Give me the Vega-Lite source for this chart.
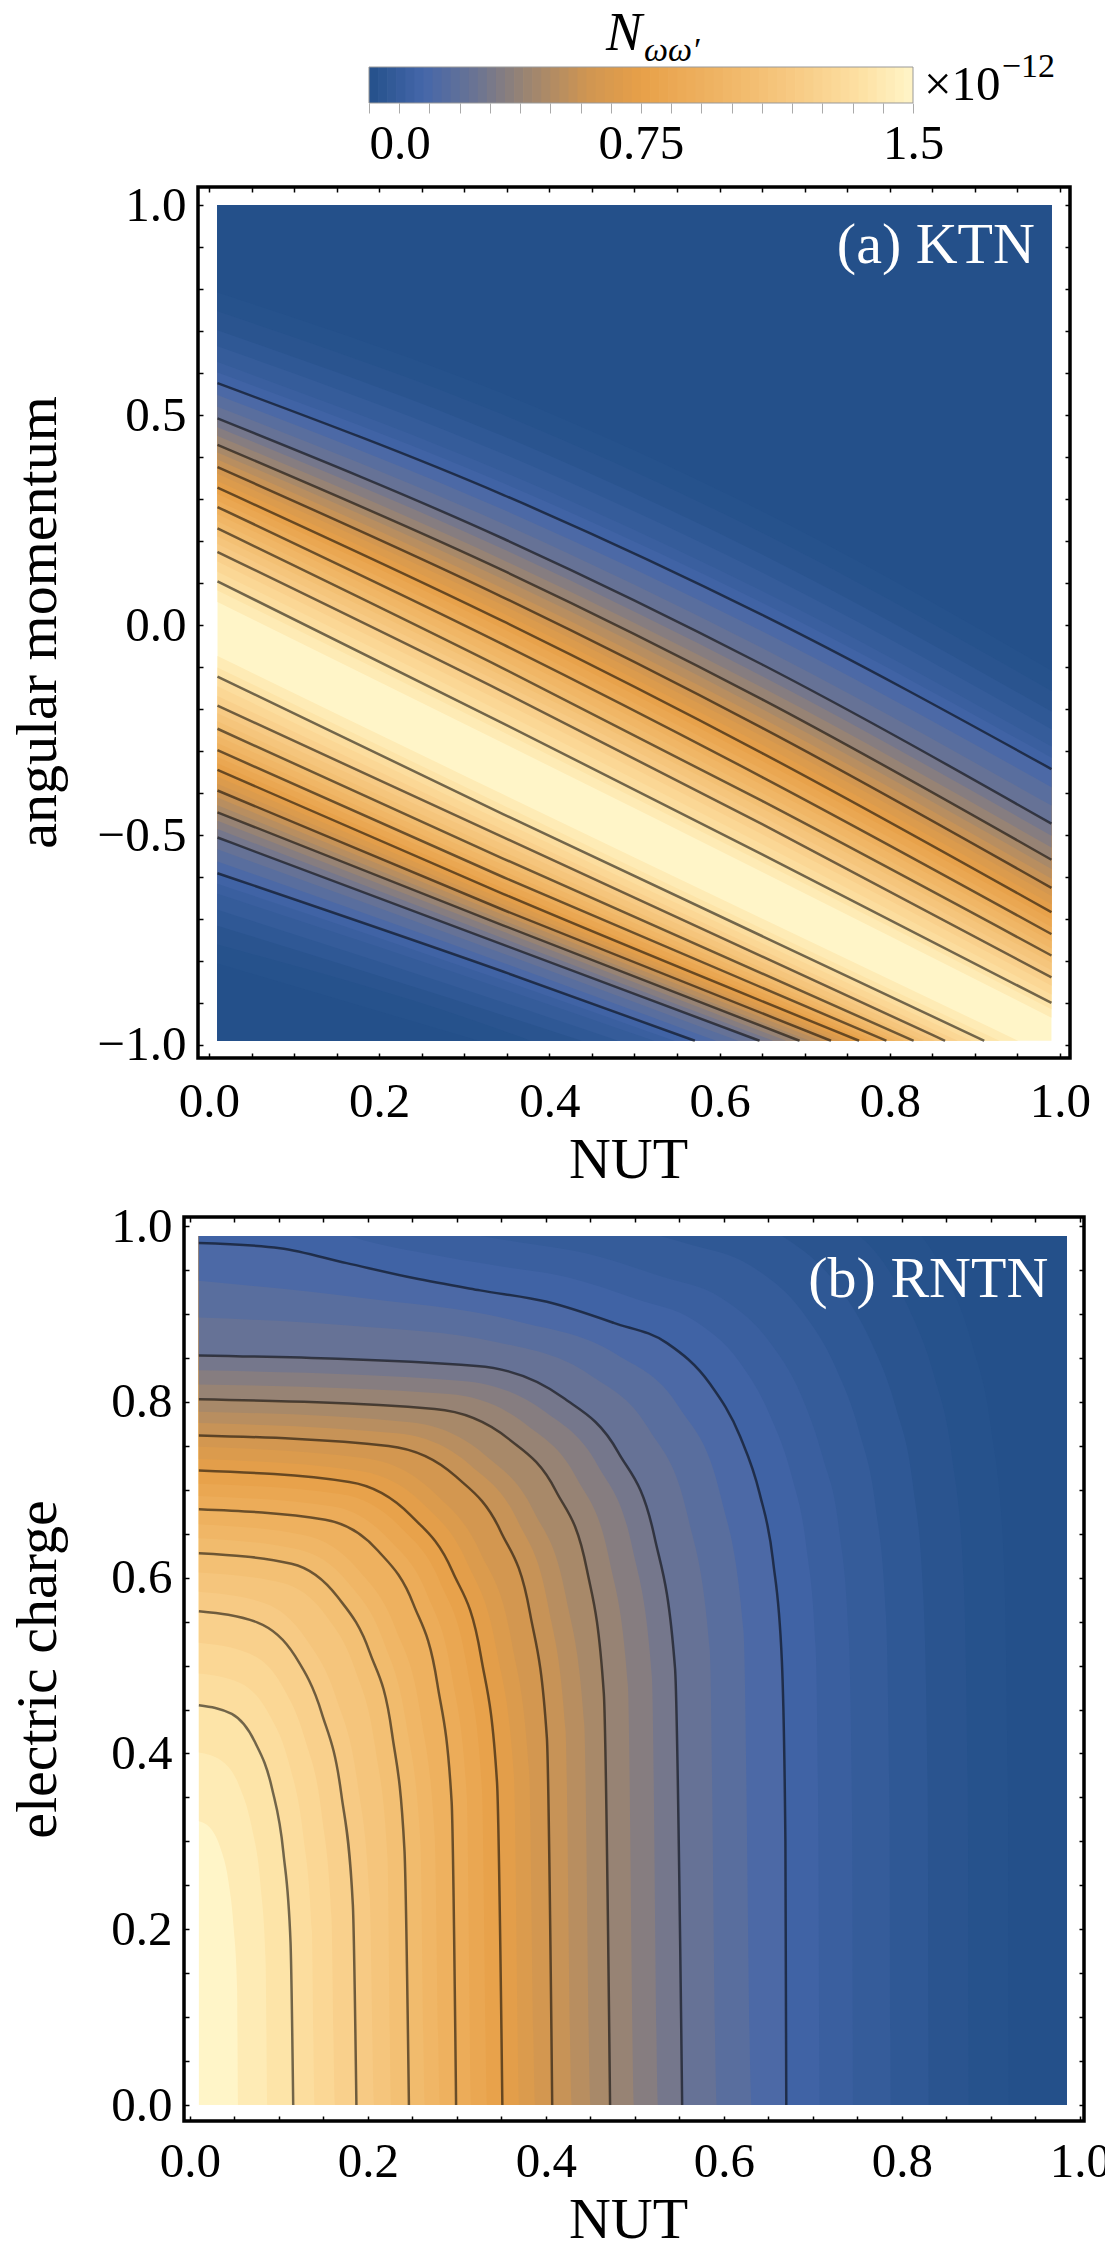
{
"$schema":"https://vega.github.io/schema/vega-lite/v6.json",
"autosize":{"type":"none"},
"padding":{"left":184,"top":67,"right":921,"bottom":2182},
"background":"#ffffff",
"config":{
"view":{"stroke":"#000000","strokeWidth":3.5},
"font":"Liberation Serif",
"text":{"font":"Liberation Serif"},
"axis":{"labelFont":"Liberation Serif","labelFontSize":49,"labelColor":"#000000","tickColor":"#000000","tickWidth":1.5,"domain":false,"grid":false,"titleFont":"Liberation Serif","titleFontSize":58,"titleFontWeight":"normal","titleColor":"#000000","labelOverlap":false,"labelFlush":false,"labelBound":false}
},
"datasets":{
"cb":[
{"a":0,"b":0.027,"v":0.0125},{"a":0.025,"b":0.052,"v":0.0375},{"a":0.05,"b":0.077,"v":0.0625},{"a":0.075,"b":0.102,"v":0.0875},{"a":0.1,"b":0.127,"v":0.1125},{"a":0.125,"b":0.152,"v":0.1375},{"a":0.15,"b":0.177,"v":0.1625},{"a":0.175,"b":0.202,"v":0.1875},{"a":0.2,"b":0.227,"v":0.2125},{"a":0.225,"b":0.252,"v":0.2375},
{"a":0.25,"b":0.277,"v":0.2625},{"a":0.275,"b":0.302,"v":0.2875},{"a":0.3,"b":0.327,"v":0.3125},{"a":0.325,"b":0.352,"v":0.3375},{"a":0.35,"b":0.377,"v":0.3625},{"a":0.375,"b":0.402,"v":0.3875},{"a":0.4,"b":0.427,"v":0.4125},{"a":0.425,"b":0.452,"v":0.4375},{"a":0.45,"b":0.477,"v":0.4625},{"a":0.475,"b":0.502,"v":0.4875},
{"a":0.5,"b":0.527,"v":0.5125},{"a":0.525,"b":0.552,"v":0.5375},{"a":0.55,"b":0.577,"v":0.5625},{"a":0.575,"b":0.602,"v":0.5875},{"a":0.6,"b":0.627,"v":0.6125},{"a":0.625,"b":0.652,"v":0.6375},{"a":0.65,"b":0.677,"v":0.6625},{"a":0.675,"b":0.702,"v":0.6875},{"a":0.7,"b":0.727,"v":0.7125},{"a":0.725,"b":0.752,"v":0.7375},
{"a":0.75,"b":0.777,"v":0.7625},{"a":0.775,"b":0.802,"v":0.7875},{"a":0.8,"b":0.827,"v":0.8125},{"a":0.825,"b":0.852,"v":0.8375},{"a":0.85,"b":0.877,"v":0.8625},{"a":0.875,"b":0.902,"v":0.8875},{"a":0.9,"b":0.927,"v":0.9125},{"a":0.925,"b":0.952,"v":0.9375},{"a":0.95,"b":0.977,"v":0.9625},{"a":0.975,"b":1.002,"v":0.9875},
{"a":1.0,"b":1.027,"v":1.0125},{"a":1.025,"b":1.052,"v":1.0375},{"a":1.05,"b":1.077,"v":1.0625},{"a":1.075,"b":1.102,"v":1.0875},{"a":1.1,"b":1.127,"v":1.1125},{"a":1.125,"b":1.152,"v":1.1375},{"a":1.15,"b":1.177,"v":1.1625},{"a":1.175,"b":1.202,"v":1.1875},{"a":1.2,"b":1.227,"v":1.2125},{"a":1.225,"b":1.252,"v":1.2375},
{"a":1.25,"b":1.277,"v":1.2625},{"a":1.275,"b":1.302,"v":1.2875},{"a":1.3,"b":1.327,"v":1.3125},{"a":1.325,"b":1.352,"v":1.3375},{"a":1.35,"b":1.377,"v":1.3625},{"a":1.375,"b":1.402,"v":1.3875},{"a":1.4,"b":1.427,"v":1.4125},{"a":1.425,"b":1.452,"v":1.4375},{"a":1.45,"b":1.477,"v":1.4625},{"a":1.475,"b":1.5,"v":1.4875}
],
"ka":[
{"i":1,"s":"u","L":1.45,"x":0.01,"y":0.055},{"i":1,"s":"u","L":1.45,"x":0.3455,"y":-0.281},{"i":1,"s":"u","L":1.45,"x":0.65,"y":-0.588},{"i":1,"s":"u","L":1.45,"x":0.99,"y":-0.935},
{"i":2,"s":"u","L":1.4,"x":0.01,"y":0.082},{"i":2,"s":"u","L":1.4,"x":0.3455,"y":-0.255},{"i":2,"s":"u","L":1.4,"x":0.65,"y":-0.565},{"i":2,"s":"u","L":1.4,"x":0.99,"y":-0.915},
{"i":3,"s":"u","L":1.35,"x":0.01,"y":0.104},{"i":3,"s":"u","L":1.35,"x":0.3455,"y":-0.234},{"i":3,"s":"u","L":1.35,"x":0.65,"y":-0.546},{"i":3,"s":"u","L":1.35,"x":0.99,"y":-0.9},
{"i":4,"s":"u","L":1.3,"x":0.01,"y":0.127},{"i":4,"s":"u","L":1.3,"x":0.3455,"y":-0.209},{"i":4,"s":"u","L":1.3,"x":0.65,"y":-0.522},{"i":4,"s":"u","L":1.3,"x":0.99,"y":-0.88},
{"i":5,"s":"u","L":1.25,"x":0.01,"y":0.151},{"i":5,"s":"u","L":1.25,"x":0.3455,"y":-0.184},{"i":5,"s":"u","L":1.25,"x":0.65,"y":-0.498},{"i":5,"s":"u","L":1.25,"x":0.99,"y":-0.859},
{"i":6,"s":"u","L":1.2,"x":0.01,"y":0.174},{"i":6,"s":"u","L":1.2,"x":0.3455,"y":-0.159},{"i":6,"s":"u","L":1.2,"x":0.65,"y":-0.474},{"i":6,"s":"u","L":1.2,"x":0.99,"y":-0.839},
{"i":7,"s":"u","L":1.15,"x":0.01,"y":0.193},{"i":7,"s":"u","L":1.15,"x":0.3455,"y":-0.14},{"i":7,"s":"u","L":1.15,"x":0.65,"y":-0.456},{"i":7,"s":"u","L":1.15,"x":0.99,"y":-0.822},
{"i":8,"s":"u","L":1.1,"x":0.01,"y":0.211},{"i":8,"s":"u","L":1.1,"x":0.3455,"y":-0.122},{"i":8,"s":"u","L":1.1,"x":0.65,"y":-0.437},{"i":8,"s":"u","L":1.1,"x":0.99,"y":-0.804},
{"i":9,"s":"u","L":1.05,"x":0.01,"y":0.23},{"i":9,"s":"u","L":1.05,"x":0.3455,"y":-0.103},{"i":9,"s":"u","L":1.05,"x":0.65,"y":-0.419},{"i":9,"s":"u","L":1.05,"x":0.99,"y":-0.787},
{"i":10,"s":"u","L":1,"x":0.01,"y":0.247},{"i":10,"s":"u","L":1,"x":0.3455,"y":-0.084},{"i":10,"s":"u","L":1,"x":0.65,"y":-0.4},{"i":10,"s":"u","L":1,"x":0.99,"y":-0.77},
{"i":11,"s":"u","L":0.95,"x":0.01,"y":0.264},{"i":11,"s":"u","L":0.95,"x":0.3455,"y":-0.065},{"i":11,"s":"u","L":0.95,"x":0.65,"y":-0.381},{"i":11,"s":"u","L":0.95,"x":0.99,"y":-0.753},
{"i":12,"s":"u","L":0.9,"x":0.01,"y":0.281},{"i":12,"s":"u","L":0.9,"x":0.3455,"y":-0.046},{"i":12,"s":"u","L":0.9,"x":0.65,"y":-0.362},{"i":12,"s":"u","L":0.9,"x":0.99,"y":-0.736},
{"i":13,"s":"u","L":0.85,"x":0.01,"y":0.296},{"i":13,"s":"u","L":0.85,"x":0.3455,"y":-0.028},{"i":13,"s":"u","L":0.85,"x":0.65,"y":-0.343},{"i":13,"s":"u","L":0.85,"x":0.99,"y":-0.719},
{"i":14,"s":"u","L":0.8,"x":0.01,"y":0.312},{"i":14,"s":"u","L":0.8,"x":0.3455,"y":-0.009},{"i":14,"s":"u","L":0.8,"x":0.65,"y":-0.324},{"i":14,"s":"u","L":0.8,"x":0.99,"y":-0.701},
{"i":15,"s":"u","L":0.75,"x":0.01,"y":0.327},{"i":15,"s":"u","L":0.75,"x":0.3455,"y":0.009},{"i":15,"s":"u","L":0.75,"x":0.65,"y":-0.305},{"i":15,"s":"u","L":0.75,"x":0.99,"y":-0.684},
{"i":16,"s":"u","L":0.7,"x":0.01,"y":0.343},{"i":16,"s":"u","L":0.7,"x":0.3455,"y":0.028},{"i":16,"s":"u","L":0.7,"x":0.65,"y":-0.285},{"i":16,"s":"u","L":0.7,"x":0.99,"y":-0.665},
{"i":17,"s":"u","L":0.65,"x":0.01,"y":0.36},{"i":17,"s":"u","L":0.65,"x":0.3455,"y":0.047},{"i":17,"s":"u","L":0.65,"x":0.65,"y":-0.265},{"i":17,"s":"u","L":0.65,"x":0.99,"y":-0.645},
{"i":18,"s":"u","L":0.6,"x":0.01,"y":0.376},{"i":18,"s":"u","L":0.6,"x":0.3455,"y":0.066},{"i":18,"s":"u","L":0.6,"x":0.65,"y":-0.245},{"i":18,"s":"u","L":0.6,"x":0.99,"y":-0.626},
{"i":19,"s":"u","L":0.55,"x":0.01,"y":0.394},{"i":19,"s":"u","L":0.55,"x":0.3455,"y":0.087},{"i":19,"s":"u","L":0.55,"x":0.65,"y":-0.222},{"i":19,"s":"u","L":0.55,"x":0.99,"y":-0.604},
{"i":20,"s":"u","L":0.5,"x":0.01,"y":0.411},{"i":20,"s":"u","L":0.5,"x":0.3455,"y":0.109},{"i":20,"s":"u","L":0.5,"x":0.65,"y":-0.2},{"i":20,"s":"u","L":0.5,"x":0.99,"y":-0.581},
{"i":21,"s":"u","L":0.45,"x":0.01,"y":0.429},{"i":21,"s":"u","L":0.45,"x":0.3455,"y":0.13},{"i":21,"s":"u","L":0.45,"x":0.65,"y":-0.177},{"i":21,"s":"u","L":0.45,"x":0.99,"y":-0.559},
{"i":22,"s":"u","L":0.4,"x":0.01,"y":0.45},{"i":22,"s":"u","L":0.4,"x":0.3455,"y":0.155},{"i":22,"s":"u","L":0.4,"x":0.65,"y":-0.149},{"i":22,"s":"u","L":0.4,"x":0.99,"y":-0.53},
{"i":23,"s":"u","L":0.35,"x":0.01,"y":0.471},{"i":23,"s":"u","L":0.35,"x":0.3455,"y":0.181},{"i":23,"s":"u","L":0.35,"x":0.65,"y":-0.122},{"i":23,"s":"u","L":0.35,"x":0.99,"y":-0.502},
{"i":24,"s":"u","L":0.3,"x":0.01,"y":0.492},{"i":24,"s":"u","L":0.3,"x":0.3455,"y":0.206},{"i":24,"s":"u","L":0.3,"x":0.65,"y":-0.094},{"i":24,"s":"u","L":0.3,"x":0.99,"y":-0.473},
{"i":25,"s":"u","L":0.25,"x":0.01,"y":0.52},{"i":25,"s":"u","L":0.25,"x":0.3455,"y":0.241},{"i":25,"s":"u","L":0.25,"x":0.65,"y":-0.055},{"i":25,"s":"u","L":0.25,"x":0.99,"y":-0.43},
{"i":26,"s":"u","L":0.2,"x":0.01,"y":0.548},{"i":26,"s":"u","L":0.2,"x":0.3455,"y":0.275},{"i":26,"s":"u","L":0.2,"x":0.65,"y":-0.015},{"i":26,"s":"u","L":0.2,"x":0.99,"y":-0.386},
{"i":27,"s":"u","L":0.15,"x":0.01,"y":0.576},{"i":27,"s":"u","L":0.15,"x":0.3455,"y":0.31},{"i":27,"s":"u","L":0.15,"x":0.65,"y":0.024},{"i":27,"s":"u","L":0.15,"x":0.99,"y":-0.343},
{"i":28,"s":"u","L":0.125,"x":0.01,"y":0.601},{"i":28,"s":"u","L":0.125,"x":0.3455,"y":0.338},{"i":28,"s":"u","L":0.125,"x":0.65,"y":0.053},{"i":28,"s":"u","L":0.125,"x":0.99,"y":-0.316},
{"i":29,"s":"u","L":0.1,"x":0.01,"y":0.626},{"i":29,"s":"u","L":0.1,"x":0.3455,"y":0.365},{"i":29,"s":"u","L":0.1,"x":0.65,"y":0.081},{"i":29,"s":"u","L":0.1,"x":0.99,"y":-0.289},
{"i":30,"s":"u","L":0.075,"x":0.01,"y":0.664},{"i":30,"s":"u","L":0.075,"x":0.3455,"y":0.408},{"i":30,"s":"u","L":0.075,"x":0.65,"y":0.125},{"i":30,"s":"u","L":0.075,"x":0.99,"y":-0.248},
{"i":31,"s":"u","L":0.05,"x":0.01,"y":0.702},{"i":31,"s":"u","L":0.05,"x":0.3455,"y":0.45},{"i":31,"s":"u","L":0.05,"x":0.65,"y":0.168},{"i":31,"s":"u","L":0.05,"x":0.99,"y":-0.206},
{"i":32,"s":"u","L":0.035,"x":0.01,"y":0.747},{"i":32,"s":"u","L":0.035,"x":0.3455,"y":0.501},{"i":32,"s":"u","L":0.035,"x":0.65,"y":0.22},{"i":32,"s":"u","L":0.035,"x":0.99,"y":-0.157},
{"i":33,"s":"u","L":0.02,"x":0.01,"y":0.792},{"i":33,"s":"u","L":0.02,"x":0.3455,"y":0.551},{"i":33,"s":"u","L":0.02,"x":0.65,"y":0.271},{"i":33,"s":"u","L":0.02,"x":0.99,"y":-0.108},
{"i":34,"s":"l","L":1.45,"x":0.01,"y":-0.074},{"i":34,"s":"l","L":1.45,"x":0.3455,"y":-0.403},{"i":34,"s":"l","L":1.45,"x":0.951,"y":-0.99},
{"i":35,"s":"l","L":1.4,"x":0.01,"y":-0.101},{"i":35,"s":"l","L":1.4,"x":0.3455,"y":-0.429},{"i":35,"s":"l","L":1.4,"x":0.929,"y":-0.99},
{"i":36,"s":"l","L":1.35,"x":0.01,"y":-0.123},{"i":36,"s":"l","L":1.35,"x":0.3455,"y":-0.45},{"i":36,"s":"l","L":1.35,"x":0.911,"y":-0.99},
{"i":37,"s":"l","L":1.3,"x":0.01,"y":-0.146},{"i":37,"s":"l","L":1.3,"x":0.3455,"y":-0.468},{"i":37,"s":"l","L":1.3,"x":0.896,"y":-0.99},
{"i":38,"s":"l","L":1.25,"x":0.01,"y":-0.169},{"i":38,"s":"l","L":1.25,"x":0.3455,"y":-0.487},{"i":38,"s":"l","L":1.25,"x":0.88,"y":-0.99},
{"i":39,"s":"l","L":1.2,"x":0.01,"y":-0.192},{"i":39,"s":"l","L":1.2,"x":0.3455,"y":-0.505},{"i":39,"s":"l","L":1.2,"x":0.865,"y":-0.99},
{"i":40,"s":"l","L":1.15,"x":0.01,"y":-0.21},{"i":40,"s":"l","L":1.15,"x":0.3455,"y":-0.522},{"i":40,"s":"l","L":1.15,"x":0.853,"y":-0.99},
{"i":41,"s":"l","L":1.1,"x":0.01,"y":-0.229},{"i":41,"s":"l","L":1.1,"x":0.3455,"y":-0.539},{"i":41,"s":"l","L":1.1,"x":0.84,"y":-0.99},
{"i":42,"s":"l","L":1.05,"x":0.01,"y":-0.247},{"i":42,"s":"l","L":1.05,"x":0.3455,"y":-0.556},{"i":42,"s":"l","L":1.05,"x":0.828,"y":-0.99},
{"i":43,"s":"l","L":1,"x":0.01,"y":-0.264},{"i":43,"s":"l","L":1,"x":0.3455,"y":-0.571},{"i":43,"s":"l","L":1,"x":0.817,"y":-0.99},
{"i":44,"s":"l","L":0.95,"x":0.01,"y":-0.281},{"i":44,"s":"l","L":0.95,"x":0.3455,"y":-0.585},{"i":44,"s":"l","L":0.95,"x":0.807,"y":-0.99},
{"i":45,"s":"l","L":0.9,"x":0.01,"y":-0.298},{"i":45,"s":"l","L":0.9,"x":0.3455,"y":-0.6},{"i":45,"s":"l","L":0.9,"x":0.796,"y":-0.99},
{"i":46,"s":"l","L":0.85,"x":0.01,"y":-0.314},{"i":46,"s":"l","L":0.85,"x":0.3455,"y":-0.613},{"i":46,"s":"l","L":0.85,"x":0.785,"y":-0.99},
{"i":47,"s":"l","L":0.8,"x":0.01,"y":-0.329},{"i":47,"s":"l","L":0.8,"x":0.3455,"y":-0.627},{"i":47,"s":"l","L":0.8,"x":0.775,"y":-0.99},
{"i":48,"s":"l","L":0.75,"x":0.01,"y":-0.345},{"i":48,"s":"l","L":0.75,"x":0.3455,"y":-0.64},{"i":48,"s":"l","L":0.75,"x":0.764,"y":-0.99},
{"i":49,"s":"l","L":0.7,"x":0.01,"y":-0.361},{"i":49,"s":"l","L":0.7,"x":0.3455,"y":-0.653},{"i":49,"s":"l","L":0.7,"x":0.753,"y":-0.99},
{"i":50,"s":"l","L":0.65,"x":0.01,"y":-0.378},{"i":50,"s":"l","L":0.65,"x":0.3455,"y":-0.665},{"i":50,"s":"l","L":0.65,"x":0.742,"y":-0.99},
{"i":51,"s":"l","L":0.6,"x":0.01,"y":-0.394},{"i":51,"s":"l","L":0.6,"x":0.3455,"y":-0.678},{"i":51,"s":"l","L":0.6,"x":0.731,"y":-0.99},
{"i":52,"s":"l","L":0.55,"x":0.01,"y":-0.411},{"i":52,"s":"l","L":0.55,"x":0.3455,"y":-0.69},{"i":52,"s":"l","L":0.55,"x":0.719,"y":-0.99},
{"i":53,"s":"l","L":0.5,"x":0.01,"y":-0.429},{"i":53,"s":"l","L":0.5,"x":0.3455,"y":-0.703},{"i":53,"s":"l","L":0.5,"x":0.706,"y":-0.99},
{"i":54,"s":"l","L":0.45,"x":0.01,"y":-0.446},{"i":54,"s":"l","L":0.45,"x":0.3455,"y":-0.715},{"i":54,"s":"l","L":0.45,"x":0.694,"y":-0.99},
{"i":55,"s":"l","L":0.4,"x":0.01,"y":-0.466},{"i":55,"s":"l","L":0.4,"x":0.3455,"y":-0.73},{"i":55,"s":"l","L":0.4,"x":0.678,"y":-0.99},
{"i":56,"s":"l","L":0.35,"x":0.01,"y":-0.486},{"i":56,"s":"l","L":0.35,"x":0.3455,"y":-0.746},{"i":56,"s":"l","L":0.35,"x":0.663,"y":-0.99},
{"i":57,"s":"l","L":0.3,"x":0.01,"y":-0.506},{"i":57,"s":"l","L":0.3,"x":0.3455,"y":-0.761},{"i":57,"s":"l","L":0.3,"x":0.647,"y":-0.99},
{"i":58,"s":"l","L":0.25,"x":0.01,"y":-0.534},{"i":58,"s":"l","L":0.25,"x":0.3455,"y":-0.782},{"i":58,"s":"l","L":0.25,"x":0.622,"y":-0.99},
{"i":59,"s":"l","L":0.2,"x":0.01,"y":-0.563},{"i":59,"s":"l","L":0.2,"x":0.3455,"y":-0.804},{"i":59,"s":"l","L":0.2,"x":0.596,"y":-0.99},
{"i":60,"s":"l","L":0.15,"x":0.01,"y":-0.591},{"i":60,"s":"l","L":0.15,"x":0.3455,"y":-0.825},{"i":60,"s":"l","L":0.15,"x":0.571,"y":-0.99},
{"i":61,"s":"l","L":0.125,"x":0.01,"y":-0.616},{"i":61,"s":"l","L":0.125,"x":0.3455,"y":-0.846},{"i":61,"s":"l","L":0.125,"x":0.547,"y":-0.99},
{"i":62,"s":"l","L":0.1,"x":0.01,"y":-0.64},{"i":62,"s":"l","L":0.1,"x":0.3455,"y":-0.866},{"i":62,"s":"l","L":0.1,"x":0.523,"y":-0.99},
{"i":63,"s":"l","L":0.075,"x":0.01,"y":-0.678},{"i":63,"s":"l","L":0.075,"x":0.3455,"y":-0.898},{"i":63,"s":"l","L":0.075,"x":0.481,"y":-0.99},
{"i":64,"s":"l","L":0.05,"x":0.01,"y":-0.716},{"i":64,"s":"l","L":0.05,"x":0.3455,"y":-0.929},{"i":64,"s":"l","L":0.05,"x":0.438,"y":-0.99},
{"i":65,"s":"l","L":0.035,"x":0.01,"y":-0.761},{"i":65,"s":"l","L":0.035,"x":0.3455,"y":-0.966},{"i":65,"s":"l","L":0.035,"x":0.378,"y":-0.99},
{"i":66,"s":"l","L":0.02,"x":0.01,"y":-0.806},{"i":66,"s":"l","L":0.02,"x":0.317,"y":-0.99}
],
"kb":[
{"i":1,"L":1.45,"x":0.01,"y":0.323},{"i":1,"L":1.45,"x":0.022,"y":0.316},{"i":1,"L":1.45,"x":0.034,"y":0.293},{"i":1,"L":1.45,"x":0.043,"y":0.256},{"i":1,"L":1.45,"x":0.049,"y":0.203},{"i":1,"L":1.45,"x":0.053,"y":0.131},{"i":1,"L":1.45,"x":0.054,"y":0},{"i":1,"L":1.45,"x":0.985,"y":0},
{"i":2,"L":1.4,"x":0.01,"y":0.401},{"i":2,"L":1.4,"x":0.035,"y":0.392},{"i":2,"L":1.4,"x":0.055,"y":0.364},{"i":2,"L":1.4,"x":0.069,"y":0.318},{"i":2,"L":1.4,"x":0.079,"y":0.253},{"i":2,"L":1.4,"x":0.085,"y":0.163},{"i":2,"L":1.4,"x":0.087,"y":0},{"i":2,"L":1.4,"x":0.985,"y":0},
{"i":3,"L":1.35,"x":0.01,"y":0.455},{"i":3,"L":1.35,"x":0.047,"y":0.445},{"i":3,"L":1.35,"x":0.073,"y":0.413},{"i":3,"L":1.35,"x":0.092,"y":0.361},{"i":3,"L":1.35,"x":0.105,"y":0.287},{"i":3,"L":1.35,"x":0.113,"y":0.185},{"i":3,"L":1.35,"x":0.116,"y":0},{"i":3,"L":1.35,"x":0.985,"y":0},
{"i":4,"L":1.3,"x":0.01,"y":0.491},{"i":4,"L":1.3,"x":0.057,"y":0.48},{"i":4,"L":1.3,"x":0.088,"y":0.446},{"i":4,"L":1.3,"x":0.111,"y":0.39},{"i":4,"L":1.3,"x":0.127,"y":0.309},{"i":4,"L":1.3,"x":0.137,"y":0.199},{"i":4,"L":1.3,"x":0.14,"y":0},{"i":4,"L":1.3,"x":0.985,"y":0},
{"i":5,"L":1.25,"x":0.01,"y":0.526},{"i":5,"L":1.25,"x":0.066,"y":0.514},{"i":5,"L":1.25,"x":0.103,"y":0.478},{"i":5,"L":1.25,"x":0.129,"y":0.417},{"i":5,"L":1.25,"x":0.148,"y":0.331},{"i":5,"L":1.25,"x":0.159,"y":0.214},{"i":5,"L":1.25,"x":0.163,"y":0},{"i":5,"L":1.25,"x":0.985,"y":0},
{"i":6,"L":1.2,"x":0.01,"y":0.562},{"i":6,"L":1.2,"x":0.076,"y":0.549},{"i":6,"L":1.2,"x":0.118,"y":0.511},{"i":6,"L":1.2,"x":0.148,"y":0.446},{"i":6,"L":1.2,"x":0.17,"y":0.354},{"i":6,"L":1.2,"x":0.183,"y":0.228},{"i":6,"L":1.2,"x":0.187,"y":0},{"i":6,"L":1.2,"x":0.985,"y":0},
{"i":7,"L":1.15,"x":0.01,"y":0.584},{"i":7,"L":1.15,"x":0.084,"y":0.571},{"i":7,"L":1.15,"x":0.13,"y":0.531},{"i":7,"L":1.15,"x":0.164,"y":0.464},{"i":7,"L":1.15,"x":0.188,"y":0.368},{"i":7,"L":1.15,"x":0.202,"y":0.237},{"i":7,"L":1.15,"x":0.207,"y":0},{"i":7,"L":1.15,"x":0.985,"y":0},
{"i":8,"L":1.1,"x":0.01,"y":0.606},{"i":8,"L":1.1,"x":0.104,"y":0.594},{"i":8,"L":1.1,"x":0.152,"y":0.558},{"i":8,"L":1.1,"x":0.185,"y":0.497},{"i":8,"L":1.1,"x":0.208,"y":0.408},{"i":8,"L":1.1,"x":0.222,"y":0.28},{"i":8,"L":1.1,"x":0.226,"y":0},{"i":8,"L":1.1,"x":0.985,"y":0},
{"i":9,"L":1.05,"x":0.01,"y":0.628},{"i":9,"L":1.05,"x":0.114,"y":0.616},{"i":9,"L":1.05,"x":0.166,"y":0.578},{"i":9,"L":1.05,"x":0.202,"y":0.515},{"i":9,"L":1.05,"x":0.227,"y":0.423},{"i":9,"L":1.05,"x":0.241,"y":0.29},{"i":9,"L":1.05,"x":0.246,"y":0},{"i":9,"L":1.05,"x":0.985,"y":0},
{"i":10,"L":1,"x":0.01,"y":0.645},{"i":10,"L":1,"x":0.122,"y":0.632},{"i":10,"L":1,"x":0.178,"y":0.594},{"i":10,"L":1,"x":0.217,"y":0.529},{"i":10,"L":1,"x":0.243,"y":0.434},{"i":10,"L":1,"x":0.259,"y":0.298},{"i":10,"L":1,"x":0.264,"y":0},{"i":10,"L":1,"x":0.985,"y":0},
{"i":11,"L":0.95,"x":0.01,"y":0.661},{"i":11,"L":0.95,"x":0.13,"y":0.648},{"i":11,"L":0.95,"x":0.189,"y":0.609},{"i":11,"L":0.95,"x":0.231,"y":0.542},{"i":11,"L":0.95,"x":0.259,"y":0.445},{"i":11,"L":0.95,"x":0.275,"y":0.305},{"i":11,"L":0.95,"x":0.281,"y":0},{"i":11,"L":0.95,"x":0.985,"y":0},
{"i":12,"L":0.9,"x":0.01,"y":0.678},{"i":12,"L":0.9,"x":0.152,"y":0.666},{"i":12,"L":0.9,"x":0.211,"y":0.631},{"i":12,"L":0.9,"x":0.251,"y":0.57},{"i":12,"L":0.9,"x":0.278,"y":0.479},{"i":12,"L":0.9,"x":0.294,"y":0.345},{"i":12,"L":0.9,"x":0.299,"y":0},{"i":12,"L":0.9,"x":0.985,"y":0},
{"i":13,"L":0.85,"x":0.01,"y":0.693},{"i":13,"L":0.85,"x":0.161,"y":0.681},{"i":13,"L":0.85,"x":0.223,"y":0.644},{"i":13,"L":0.85,"x":0.266,"y":0.582},{"i":13,"L":0.85,"x":0.294,"y":0.49},{"i":13,"L":0.85,"x":0.311,"y":0.352},{"i":13,"L":0.85,"x":0.316,"y":0},{"i":13,"L":0.85,"x":0.985,"y":0},
{"i":14,"L":0.8,"x":0.01,"y":0.707},{"i":14,"L":0.8,"x":0.17,"y":0.695},{"i":14,"L":0.8,"x":0.236,"y":0.658},{"i":14,"L":0.8,"x":0.281,"y":0.595},{"i":14,"L":0.8,"x":0.311,"y":0.5},{"i":14,"L":0.8,"x":0.328,"y":0.36},{"i":14,"L":0.8,"x":0.334,"y":0},{"i":14,"L":0.8,"x":0.985,"y":0},
{"i":15,"L":0.75,"x":0.01,"y":0.722},{"i":15,"L":0.75,"x":0.179,"y":0.709},{"i":15,"L":0.75,"x":0.248,"y":0.671},{"i":15,"L":0.75,"x":0.295,"y":0.607},{"i":15,"L":0.75,"x":0.327,"y":0.51},{"i":15,"L":0.75,"x":0.345,"y":0.367},{"i":15,"L":0.75,"x":0.351,"y":0},{"i":15,"L":0.75,"x":0.985,"y":0},
{"i":16,"L":0.7,"x":0.01,"y":0.735},{"i":16,"L":0.7,"x":0.188,"y":0.722},{"i":16,"L":0.7,"x":0.262,"y":0.684},{"i":16,"L":0.7,"x":0.311,"y":0.618},{"i":16,"L":0.7,"x":0.344,"y":0.52},{"i":16,"L":0.7,"x":0.364,"y":0.374},{"i":16,"L":0.7,"x":0.37,"y":0},{"i":16,"L":0.7,"x":0.985,"y":0},
{"i":17,"L":0.65,"x":0.01,"y":0.749},{"i":17,"L":0.65,"x":0.197,"y":0.736},{"i":17,"L":0.65,"x":0.274,"y":0.697},{"i":17,"L":0.65,"x":0.326,"y":0.629},{"i":17,"L":0.65,"x":0.361,"y":0.529},{"i":17,"L":0.65,"x":0.381,"y":0.381},{"i":17,"L":0.65,"x":0.388,"y":0},{"i":17,"L":0.65,"x":0.985,"y":0},
{"i":18,"L":0.6,"x":0.01,"y":0.762},{"i":18,"L":0.6,"x":0.223,"y":0.75},{"i":18,"L":0.6,"x":0.299,"y":0.715},{"i":18,"L":0.6,"x":0.349,"y":0.653},{"i":18,"L":0.6,"x":0.382,"y":0.56},{"i":18,"L":0.6,"x":0.401,"y":0.418},{"i":18,"L":0.6,"x":0.407,"y":0},{"i":18,"L":0.6,"x":0.985,"y":0},
{"i":19,"L":0.55,"x":0.01,"y":0.776},{"i":19,"L":0.55,"x":0.235,"y":0.764},{"i":19,"L":0.55,"x":0.315,"y":0.728},{"i":19,"L":0.55,"x":0.368,"y":0.665},{"i":19,"L":0.55,"x":0.402,"y":0.57},{"i":19,"L":0.55,"x":0.422,"y":0.426},{"i":19,"L":0.55,"x":0.429,"y":0},{"i":19,"L":0.55,"x":0.985,"y":0},
{"i":20,"L":0.5,"x":0.01,"y":0.789},{"i":20,"L":0.5,"x":0.247,"y":0.777},{"i":20,"L":0.5,"x":0.331,"y":0.74},{"i":20,"L":0.5,"x":0.386,"y":0.676},{"i":20,"L":0.5,"x":0.422,"y":0.58},{"i":20,"L":0.5,"x":0.443,"y":0.433},{"i":20,"L":0.5,"x":0.45,"y":0},{"i":20,"L":0.5,"x":0.985,"y":0},
{"i":21,"L":0.45,"x":0.01,"y":0.803},{"i":21,"L":0.45,"x":0.275,"y":0.792},{"i":21,"L":0.45,"x":0.358,"y":0.758},{"i":21,"L":0.45,"x":0.411,"y":0.699},{"i":21,"L":0.45,"x":0.446,"y":0.609},{"i":21,"L":0.45,"x":0.465,"y":0.468},{"i":21,"L":0.45,"x":0.472,"y":0},{"i":21,"L":0.45,"x":0.985,"y":0},
{"i":22,"L":0.4,"x":0.01,"y":0.82},{"i":22,"L":0.4,"x":0.291,"y":0.809},{"i":22,"L":0.4,"x":0.378,"y":0.774},{"i":22,"L":0.4,"x":0.434,"y":0.714},{"i":22,"L":0.4,"x":0.471,"y":0.621},{"i":22,"L":0.4,"x":0.492,"y":0.478},{"i":22,"L":0.4,"x":0.499,"y":0},{"i":22,"L":0.4,"x":0.985,"y":0},
{"i":23,"L":0.35,"x":0.01,"y":0.836},{"i":23,"L":0.35,"x":0.306,"y":0.824},{"i":23,"L":0.35,"x":0.399,"y":0.789},{"i":23,"L":0.35,"x":0.458,"y":0.728},{"i":23,"L":0.35,"x":0.497,"y":0.634},{"i":23,"L":0.35,"x":0.519,"y":0.487},{"i":23,"L":0.35,"x":0.526,"y":0},{"i":23,"L":0.35,"x":0.985,"y":0},
{"i":24,"L":0.3,"x":0.01,"y":0.853},{"i":24,"L":0.3,"x":0.322,"y":0.841},{"i":24,"L":0.3,"x":0.419,"y":0.805},{"i":24,"L":0.3,"x":0.481,"y":0.743},{"i":24,"L":0.3,"x":0.522,"y":0.646},{"i":24,"L":0.3,"x":0.545,"y":0.497},{"i":24,"L":0.3,"x":0.553,"y":0},{"i":24,"L":0.3,"x":0.985,"y":0},
{"i":25,"L":0.25,"x":0.01,"y":0.896},{"i":25,"L":0.25,"x":0.178,"y":0.887},{"i":25,"L":0.25,"x":0.345,"y":0.868},{"i":25,"L":0.25,"x":0.449,"y":0.831},{"i":25,"L":0.25,"x":0.515,"y":0.77},{"i":25,"L":0.25,"x":0.559,"y":0.671},{"i":25,"L":0.25,"x":0.584,"y":0.518},{"i":25,"L":0.25,"x":0.592,"y":0},{"i":25,"L":0.25,"x":0.985,"y":0},
{"i":26,"L":0.2,"x":0.01,"y":0.938},{"i":26,"L":0.2,"x":0.189,"y":0.919},{"i":26,"L":0.2,"x":0.367,"y":0.892},{"i":26,"L":0.2,"x":0.478,"y":0.855},{"i":26,"L":0.2,"x":0.549,"y":0.795},{"i":26,"L":0.2,"x":0.596,"y":0.694},{"i":26,"L":0.2,"x":0.622,"y":0.538},{"i":26,"L":0.2,"x":0.631,"y":0},{"i":26,"L":0.2,"x":0.985,"y":0},
{"i":27,"L":0.15,"x":0.01,"y":0.981},{"i":27,"L":0.15,"x":0.101,"y":0.975},{"i":27,"L":0.15,"x":0.176,"y":0.958},{"i":27,"L":0.15,"x":0.251,"y":0.941},{"i":27,"L":0.15,"x":0.326,"y":0.927},{"i":27,"L":0.15,"x":0.401,"y":0.914},{"i":27,"L":0.15,"x":0.476,"y":0.89},{"i":27,"L":0.15,"x":0.536,"y":0.867},{"i":27,"L":0.15,"x":0.584,"y":0.821},{"i":27,"L":0.15,"x":0.618,"y":0.761},{"i":27,"L":0.15,"x":0.64,"y":0.696},{"i":27,"L":0.15,"x":0.655,"y":0.62},{"i":27,"L":0.15,"x":0.665,"y":0.506},{"i":27,"L":0.15,"x":0.669,"y":0.3},{"i":27,"L":0.15,"x":0.67,"y":0},{"i":27,"L":0.15,"x":0.985,"y":0},
{"i":28,"L":0.125,"x":0.18,"y":0.989},{"i":28,"L":0.125,"x":0.186,"y":0.987},{"i":28,"L":0.125,"x":0.265,"y":0.969},{"i":28,"L":0.125,"x":0.345,"y":0.955},{"i":28,"L":0.125,"x":0.424,"y":0.942},{"i":28,"L":0.125,"x":0.502,"y":0.917},{"i":28,"L":0.125,"x":0.566,"y":0.893},{"i":28,"L":0.125,"x":0.617,"y":0.846},{"i":28,"L":0.125,"x":0.652,"y":0.784},{"i":28,"L":0.125,"x":0.676,"y":0.716},{"i":28,"L":0.125,"x":0.692,"y":0.639},{"i":28,"L":0.125,"x":0.703,"y":0.521},{"i":28,"L":0.125,"x":0.706,"y":0.309},{"i":28,"L":0.125,"x":0.7075,"y":0},{"i":28,"L":0.125,"x":0.985,"y":0},
{"i":29,"L":0.1,"x":0.327,"y":0.989},{"i":29,"L":0.1,"x":0.363,"y":0.983},{"i":29,"L":0.1,"x":0.446,"y":0.969},{"i":29,"L":0.1,"x":0.529,"y":0.943},{"i":29,"L":0.1,"x":0.596,"y":0.919},{"i":29,"L":0.1,"x":0.65,"y":0.87},{"i":29,"L":0.1,"x":0.687,"y":0.807},{"i":29,"L":0.1,"x":0.711,"y":0.737},{"i":29,"L":0.1,"x":0.729,"y":0.657},{"i":29,"L":0.1,"x":0.74,"y":0.537},{"i":29,"L":0.1,"x":0.744,"y":0.318},{"i":29,"L":0.1,"x":0.745,"y":0},{"i":29,"L":0.1,"x":0.985,"y":0},
{"i":30,"L":0.075,"x":0.528,"y":0.989},{"i":30,"L":0.075,"x":0.559,"y":0.98},{"i":30,"L":0.075,"x":0.63,"y":0.955},{"i":30,"L":0.075,"x":0.687,"y":0.904},{"i":30,"L":0.075,"x":0.726,"y":0.838},{"i":30,"L":0.075,"x":0.752,"y":0.766},{"i":30,"L":0.075,"x":0.77,"y":0.683},{"i":30,"L":0.075,"x":0.782,"y":0.557},{"i":30,"L":0.075,"x":0.786,"y":0.33},{"i":30,"L":0.075,"x":0.7875,"y":0},{"i":30,"L":0.075,"x":0.985,"y":0},
{"i":31,"L":0.05,"x":0.665,"y":0.989},{"i":31,"L":0.05,"x":0.724,"y":0.937},{"i":31,"L":0.05,"x":0.765,"y":0.869},{"i":31,"L":0.05,"x":0.793,"y":0.794},{"i":31,"L":0.05,"x":0.812,"y":0.708},{"i":31,"L":0.05,"x":0.824,"y":0.578},{"i":31,"L":0.05,"x":0.829,"y":0.343},{"i":31,"L":0.05,"x":0.83,"y":0},{"i":31,"L":0.05,"x":0.985,"y":0},
{"i":32,"L":0.035,"x":0.752,"y":0.989},{"i":32,"L":0.035,"x":0.763,"y":0.979},{"i":32,"L":0.035,"x":0.807,"y":0.908},{"i":32,"L":0.035,"x":0.836,"y":0.83},{"i":32,"L":0.035,"x":0.856,"y":0.739},{"i":32,"L":0.035,"x":0.869,"y":0.604},{"i":32,"L":0.035,"x":0.874,"y":0.358},{"i":32,"L":0.035,"x":0.875,"y":0},{"i":32,"L":0.035,"x":0.985,"y":0},
{"i":33,"L":0.02,"x":0.822,"y":0.989},{"i":33,"L":0.02,"x":0.848,"y":0.947},{"i":33,"L":0.02,"x":0.879,"y":0.865},{"i":33,"L":0.02,"x":0.9,"y":0.771},{"i":33,"L":0.02,"x":0.914,"y":0.63},{"i":33,"L":0.02,"x":0.919,"y":0.373},{"i":33,"L":0.02,"x":0.92,"y":0},{"i":33,"L":0.02,"x":0.985,"y":0}
]
},
"resolve":{"scale":{"color":"independent"}},
"spacing":84,"bounds":"flush","center":false,
"vconcat":[
{
"width":900,"height":36,"view":{"stroke":null},
"resolve":{"axis":{"x":"independent"}},
"layer":[
{"data":{"name":"cb"},"mark":{"type":"rect"},
"encoding":{
"x":{"field":"a","type":"quantitative","scale":{"domain":[-0.5101,1.9715],"nice":false,"zero":false},
"axis":{"orient":"bottom","values":[0,0.08333,0.16667,0.25,0.33333,0.41667,0.5,0.58333,0.66667,0.75,0.83333,0.91667,1,1.08333,1.16667,1.25,1.33333,1.41667,1.5],"tickSize":10,"tickColor":"#aaaaaa","tickWidth":1,"labelPadding":6,"labelExpr":"datum.value == 0 ? '0.0' : (datum.value == 0.75 ? '0.75' : (datum.value == 1.5 ? '1.5' : ''))","labelAlign":{"condition":{"test":"datum.value == 0","value":"left"},"value":"center"},"title":null}},
"x2":{"field":"b"},
"color":{"field":"v","type":"quantitative","scale":{"domain":[0,0.15,0.3,0.45,0.6,0.75,0.9,1.05,1.2,1.35,1.5],"range":["#24508a","#4567aa","#6c7492","#a0866e","#cf9552","#e7a048","#edae5c","#f2bd70","#f8cd88","#fde0a2","#fff5c8"],"interpolate":"rgb","clamp":true},"legend":null}}},
{"data":{"values":[{}]},"mark":{"type":"rect","fill":null,"stroke":"#999999","strokeWidth":1},"encoding":{"x":{"datum":0,"type":"quantitative","axis":null},"x2":{"datum":1.5}}},
{"data":{"values":[{}]},"mark":{"type":"text","text":"N","fontSize":54,"fontStyle":"italic","align":"center","baseline":"alphabetic","dy":-35,"color":"#000000"},"encoding":{"x":{"datum":0.703,"type":"quantitative","axis":null}}},
{"data":{"values":[{}]},"mark":{"type":"text","text":"ωω′","fontSize":34,"fontStyle":"italic","align":"center","baseline":"alphabetic","dy":-24,"color":"#000000"},"encoding":{"x":{"datum":0.835,"type":"quantitative","axis":null}}},
{"data":{"values":[{}]},"mark":{"type":"text","text":"×10","fontSize":49,"align":"left","baseline":"alphabetic","dy":15,"color":"#000000"},"encoding":{"x":{"datum":1.53,"type":"quantitative","axis":null}}},
{"data":{"values":[{}]},"mark":{"type":"text","text":"−12","fontSize":34,"align":"left","baseline":"alphabetic","dy":-8,"color":"#000000"},"encoding":{"x":{"datum":1.745,"type":"quantitative","axis":null}}}
]
},
{
"spacing":159,"bounds":"flush","center":true,
"vconcat":[
{
"width":872,"height":871,
"resolve":{"axis":{"x":"independent","y":"independent"}},
"layer":[
{"data":{"values":[{}]},"mark":{"type":"rect","fill":"#fff5c8"},
"encoding":{"x":{"datum":0.01,"type":"quantitative","scale":{"domain":[-0.0129,1.0118],"nice":false,"zero":false},"axis":null},"x2":{"datum":0.99},
"y":{"datum":-0.99,"type":"quantitative","scale":{"domain":[-1.031,1.043],"nice":false,"zero":false},"axis":null},"y2":{"datum":1.0}}},
{"data":{"name":"ka"},"transform":[{"filter":"datum.s == 'u'"}],"mark":{"type":"area","interpolate":"monotone"},
"encoding":{
"x":{"field":"x","type":"quantitative","scale":{"domain":[-0.0129,1.0118],"nice":false,"zero":false},
"axis":{"orient":"bottom","values":[0,0.05,0.1,0.15,0.2,0.25,0.3,0.35,0.4,0.45,0.5,0.55,0.6,0.65,0.7,0.75,0.8,0.85,0.9,0.95,1],"labelExpr":"abs(datum.value*5-round(datum.value*5))<0.001 ? format(datum.value,'.1f') : ''","tickSize":-5,"labelPadding":24,"labelBaseline":"top","title":"NUT","titleX":430,"titleY":119,"titleAlign":"center","titleBaseline":"alphabetic","titleAngle":0}},
"y":{"field":"y","type":"quantitative","scale":{"domain":[-1.031,1.043],"nice":false,"zero":false},
"axis":{"orient":"left","values":[-1,-0.9,-0.8,-0.7,-0.6,-0.5,-0.4,-0.3,-0.2,-0.1,0,0.1,0.2,0.3,0.4,0.5,0.6,0.7,0.8,0.9,1],"labelExpr":"abs(datum.value*2-round(datum.value*2))<0.001 ? format(datum.value,'.1f') : ''","tickSize":-5,"labelPadding":17,"title":"angular momentum","titleX":-143,"titleY":435,"titleAlign":"center","titleBaseline":"alphabetic","titleAngle":-90}},
"y2":{"datum":1.0},
"detail":{"field":"i","type":"nominal"},
"color":{"field":"L","type":"quantitative","scale":{"domain":[0.025,0.175,0.325,0.475,0.625,0.775,0.925,1.075,1.225,1.375,1.525],"range":["#24508a","#4567aa","#6c7492","#a0866e","#cf9552","#e7a048","#edae5c","#f2bd70","#f8cd88","#fde0a2","#fff5c8"],"interpolate":"rgb","clamp":true},"legend":null}}},
{"data":{"name":"ka"},"transform":[{"filter":"datum.s == 'l'"}],"mark":{"type":"area","interpolate":"monotone"},
"encoding":{
"x":{"field":"x","type":"quantitative","scale":{"domain":[-0.0129,1.0118],"nice":false,"zero":false},"axis":null},
"y":{"field":"y","type":"quantitative","scale":{"domain":[-1.031,1.043],"nice":false,"zero":false},"axis":null},
"y2":{"datum":-0.99},
"detail":{"field":"i","type":"nominal"},
"color":{"field":"L","type":"quantitative","scale":{"domain":[0.025,0.175,0.325,0.475,0.625,0.775,0.925,1.075,1.225,1.375,1.525],"range":["#24508a","#4567aa","#6c7492","#a0866e","#cf9552","#e7a048","#edae5c","#f2bd70","#f8cd88","#fde0a2","#fff5c8"],"interpolate":"rgb","clamp":true},"legend":null}}},
{"data":{"name":"ka"},"transform":[{"filter":{"field":"L","oneOf":[0.15,0.3,0.45,0.6,0.75,0.9,1.05,1.2,1.35]}}],"mark":{"type":"line","interpolate":"monotone","color":"#000000","opacity":0.55,"strokeWidth":2.5},
"encoding":{
"x":{"field":"x","type":"quantitative","scale":{"domain":[-0.0129,1.0118],"nice":false,"zero":false},
"axis":{"orient":"top","labels":false,"title":null,"values":[0,0.05,0.1,0.15,0.2,0.25,0.3,0.35,0.4,0.45,0.5,0.55,0.6,0.65,0.7,0.75,0.8,0.85,0.9,0.95,1],"tickSize":-5}},
"y":{"field":"y","type":"quantitative","scale":{"domain":[-1.031,1.043],"nice":false,"zero":false},
"axis":{"orient":"right","labels":false,"title":null,"values":[-1,-0.9,-0.8,-0.7,-0.6,-0.5,-0.4,-0.3,-0.2,-0.1,0,0.1,0.2,0.3,0.4,0.5,0.6,0.7,0.8,0.9,1],"tickSize":-5}},
"detail":{"field":"i","type":"nominal"}}},
{"data":{"values":[{}]},"mark":{"type":"text","text":"(a) KTN","fontSize":58,"color":"#ffffff","align":"right","baseline":"alphabetic"},
"encoding":{"x":{"datum":0.9706,"type":"quantitative","scale":{"domain":[-0.0129,1.0118],"nice":false,"zero":false},"axis":null},"y":{"datum":0.862,"type":"quantitative","scale":{"domain":[-1.031,1.043],"nice":false,"zero":false},"axis":null}}}
]
},
{
"width":900,"height":904,
"resolve":{"axis":{"x":"independent","y":"independent"}},
"layer":[
{"data":{"values":[{}]},"mark":{"type":"rect","fill":"#fff5c8"},
"encoding":{"x":{"datum":0.01,"type":"quantitative","scale":{"domain":[-0.0067,1.0045],"nice":false,"zero":false},"axis":null},"x2":{"datum":0.985},
"y":{"datum":0,"type":"quantitative","scale":{"domain":[-0.0182,1.0105],"nice":false,"zero":false},"axis":null},"y2":{"datum":0.989}}},
{"data":{"name":"kb"},"mark":{"type":"area","interpolate":"monotone"},
"encoding":{
"x":{"field":"x","type":"quantitative","scale":{"domain":[-0.0067,1.0045],"nice":false,"zero":false},
"axis":{"orient":"bottom","values":[0,0.05,0.1,0.15,0.2,0.25,0.3,0.35,0.4,0.45,0.5,0.55,0.6,0.65,0.7,0.75,0.8,0.85,0.9,0.95,1],"labelExpr":"abs(datum.value*5-round(datum.value*5))<0.001 ? format(datum.value,'.1f') : ''","tickSize":-5,"labelPadding":21,"labelBaseline":"top","title":"NUT","titleX":444,"titleY":116,"titleAlign":"center","titleBaseline":"alphabetic","titleAngle":0}},
"y":{"field":"y","type":"quantitative","scale":{"domain":[-0.0182,1.0105],"nice":false,"zero":false},
"axis":{"orient":"left","values":[0,0.05,0.1,0.15,0.2,0.25,0.3,0.35,0.4,0.45,0.5,0.55,0.6,0.65,0.7,0.75,0.8,0.85,0.9,0.95,1],"labelExpr":"abs(datum.value*5-round(datum.value*5))<0.001 ? format(datum.value,'.1f') : ''","tickSize":-5,"labelPadding":17,"title":"electric charge","titleX":-129,"titleY":452,"titleAlign":"center","titleBaseline":"alphabetic","titleAngle":-90}},
"y2":{"datum":0.989},
"detail":{"field":"i","type":"nominal"},
"color":{"field":"L","type":"quantitative","scale":{"domain":[0.025,0.175,0.325,0.475,0.625,0.775,0.925,1.075,1.225,1.375,1.525],"range":["#24508a","#4567aa","#6c7492","#a0866e","#cf9552","#e7a048","#edae5c","#f2bd70","#f8cd88","#fde0a2","#fff5c8"],"interpolate":"rgb","clamp":true},"legend":null}}},
{"data":{"name":"kb"},"transform":[{"filter":{"field":"L","oneOf":[0.15,0.3,0.45,0.6,0.75,0.9,1.05,1.2,1.35]}},{"filter":"datum.x < 0.98"}],"mark":{"type":"line","interpolate":"monotone","color":"#000000","opacity":0.55,"strokeWidth":2.5},
"encoding":{
"x":{"field":"x","type":"quantitative","scale":{"domain":[-0.0067,1.0045],"nice":false,"zero":false},
"axis":{"orient":"top","labels":false,"title":null,"values":[0,0.05,0.1,0.15,0.2,0.25,0.3,0.35,0.4,0.45,0.5,0.55,0.6,0.65,0.7,0.75,0.8,0.85,0.9,0.95,1],"tickSize":-5}},
"y":{"field":"y","type":"quantitative","scale":{"domain":[-0.0182,1.0105],"nice":false,"zero":false},
"axis":{"orient":"right","labels":false,"title":null,"values":[0,0.05,0.1,0.15,0.2,0.25,0.3,0.35,0.4,0.45,0.5,0.55,0.6,0.65,0.7,0.75,0.8,0.85,0.9,0.95,1],"tickSize":-5}},
"detail":{"field":"i","type":"nominal"}}},
{"data":{"values":[{}]},"mark":{"type":"text","text":"(b) RNTN","fontSize":58,"color":"#ffffff","align":"right","baseline":"alphabetic"},
"encoding":{"x":{"datum":0.9644,"type":"quantitative","scale":{"domain":[-0.0067,1.0045],"nice":false,"zero":false},"axis":null},"y":{"datum":0.9198,"type":"quantitative","scale":{"domain":[-0.0182,1.0105],"nice":false,"zero":false},"axis":null}}}
]
}
]
}
]
}
